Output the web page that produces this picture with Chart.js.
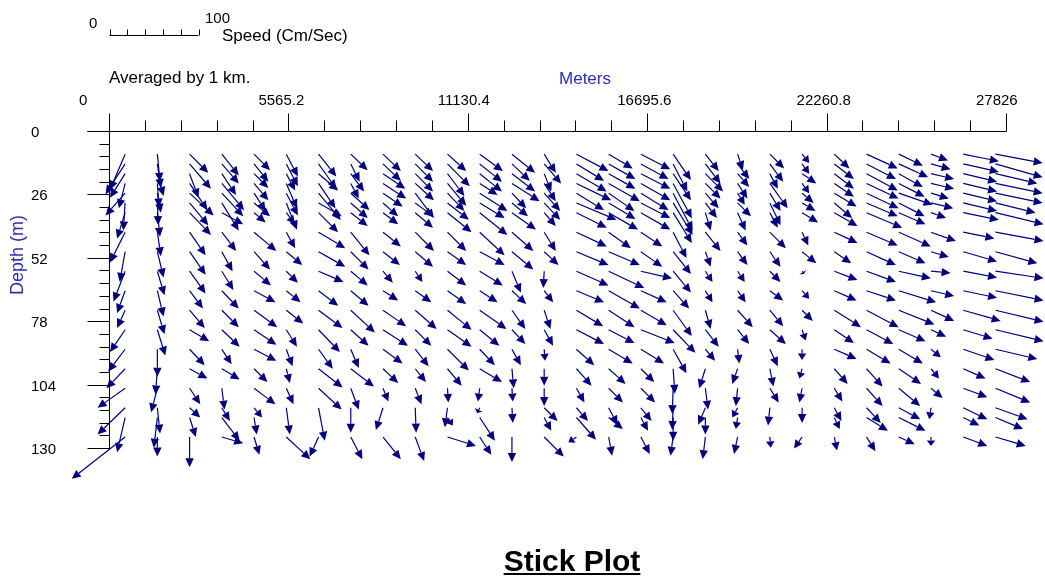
<!DOCTYPE html>
<html>
<head>
<meta charset="utf-8">
<script src="https://cdn.jsdelivr.net/npm/chart.js@4.4.0/dist/chart.umd.min.js"></script>
<style>
  body { margin: 0; background: #fff; }
  canvas { display: block; }
</style>
</head>
<body>
<canvas id="stickChart" width="1045" height="580"></canvas>
<script>
// station positions along the section (m) - averaged by 1 km
const stations = [500, 1500, 2500, 3500, 4500, 5500, 6500, 7500, 8500, 9500, 10500, 11500, 12500, 13500,
  14500, 15500, 16500, 17500, 18500, 19500, 20500, 21500, 22500, 23500, 24500, 25500, 26500, 27500];

// bin depths (m)
const depths = [9.5, 13.5, 17.5, 21.5, 25.5, 29.5, 33.5, 41.5, 49.5, 57.5, 65.5, 73.5, 81.5, 89.5, 97.5, 105.5, 113.5, 117.5, 125.5];

// east component (cm/s), one row per station, one value per depth
const east = [
  [-17, -22, -17, -7, -22, -2, -9, -17, -6, -13, -9, -9, -17, -19, -21, -31, -31, -9, -60],
  [3, 4, 7, 2, 4, 1, 3, 4, 7, 8, 7, 8, 9, 0, -2, -7, 3, -4, 0],
  [21, 24, 10, 20, 27, 21, 24, 18, 18, 18, 15, 17, 22, 17, 20, 12, 12, 7, 0],
  [19, 19, 16, 25, 24, 19, 24, 16, 12, 13, 19, 19, 20, 11, 20, 3, 9, 20, 24],
  [18, 16, 16, 16, 13, 18, 13, 25, 18, 19, 24, 26, 25, 25, 15, 24, 9, 3, 6],
  [13, 13, 10, 12, 13, 12, 10, 10, 18, 13, 16, 19, 12, 7, 4, 8, 4, null, 27],
  [20, 20, 22, 19, 25, 26, 22, 30, 30, 28, 22, 27, 24, 16, 27, 26, 7, null, -10],
  [19, 10, 15, 9, 21, 19, 19, 21, 20, 19, 20, 27, 20, 9, 26, 9, 0, null, 13],
  [20, 20, 25, 26, 22, 17, 17, 20, 19, 11, 17, 26, 28, 22, 17, 6, -8, null, 20],
  [20, 20, 20, 21, 21, 20, 20, 21, 20, 8, 18, 24, 18, 15, 12, 7, 1, null, 10],
  [21, 25, 19, 21, 19, 24, 27, 21, 21, 21, 21, 27, 27, 24, 16, 1, -3, 6, 32],
  [26, 25, 25, 20, 31, 28, 31, 28, 28, 26, 20, 30, 22, 17, 25, -2, -3, 17, 13],
  [26, 20, 26, 31, 16, 18, 27, 24, 24, 10, 16, 15, 15, 10, 2, 1, 1, null, 0],
  [13, 19, 8, 13, 18, 18, 13, 13, 16, -1, 10, 7, 10, 1, 0, 0, 15, 8, 22],
  [36, 31, 34, 39, 31, 45, 34, 34, 36, 36, 31, 30, 31, 20, 17, 9, 13, 22, -9],
  [27, 30, 30, 35, 29, 30, 33, 25, 35, 40, 35, 29, 29, 27, 19, 16, 10, 16, 4],
  [33, 31, 33, 33, 31, 33, 33, 24, 24, 35, 29, 29, 38, 26, 15, 16, 12, 8, 10],
  [20, 16, 20, 21, 22, 22, 21, 15, 20, 20, 18, 21, 25, 15, 2, -1, -1, 0, -3],
  [15, 17, 20, 17, 15, 13, 6, 17, 6, 8, 8, 6, 15, 11, -7, 3, -8, 0, -3],
  [6, 13, 13, 11, 8, 15, 9, 11, 11, 8, 9, 17, 13, 2, -6, -2, -6, -2, -4],
  [16, 15, 9, 20, 12, 12, 9, 18, 12, 12, 15, 15, 18, 9, 4, 10, -2, null, 1],
  [8, 8, 16, 8, 13, 15, 18, 7, 16, 2, 8, 12, 4, 0, -3, -3, 0, null, -9],
  [17, 22, 22, 22, 25, 20, 26, 26, 19, 26, 25, 30, 22, 25, 15, 9, 8, 6, 3],
  [35, 33, 35, 36, 36, 35, 40, 35, 33, 33, 33, 36, 30, 27, 18, 18, 16, 24, 10],
  [27, 33, 27, 29, 38, 29, 30, 36, 30, 36, 42, 40, 30, 27, 25, 24, 24, 30, 18],
  [19, 22, 26, 26, 20, 25, 17, 28, 20, 22, 26, 26, 17, 11, 9, 13, -2, null, 0],
  [40, 40, 38, 38, 38, 38, 40, 35, 38, 38, 38, 42, 33, 35, 25, 27, 27, 18, 27],
  [53, 53, 47, 53, 53, 45, 54, 54, 47, 54, 54, 54, 54, 47, 39, 39, 36, 31, 34]
];

// north component (cm/s)
const north = [
  [-40, -34, -27, -28, -25, -31, -29, -34, -34, -34, -25, -20, -25, -25, -22, -22, -30, -39, -47],
  [-31, -27, -25, -27, -22, -25, -27, -27, -29, -27, -29, -27, -29, -31, -29, -27, -29, -34, -22],
  [-21, -28, -27, -30, -25, -25, -25, -26, -26, -25, -20, -20, -13, -18, -11, -18, -11, -22, -34],
  [-24, -22, -24, -30, -26, -31, -13, -21, -22, -21, -20, -19, -19, -17, -12, -24, -15, -26, -7],
  [-18, -20, -16, -19, -20, -15, -11, -21, -20, -16, -13, -19, -17, -13, -15, -18, -11, -19, -20],
  [-25, -25, -19, -28, -25, -30, -13, -18, -15, -13, -13, -15, -19, -19, -16, -18, -30, null, -25],
  [-25, -28, -19, -28, -30, -15, -22, -18, -17, -12, -17, -20, -25, -22, -21, -24, -37, null, -22],
  [-18, -20, -20, -17, -19, -17, -15, -26, -20, -16, -17, -25, -18, -21, -20, -24, -28, null, -25],
  [-19, -19, -17, -17, -15, -15, -13, -16, -15, -13, -11, -18, -18, -16, -16, -15, -25, null, -25],
  [-19, -20, -20, -19, -28, -15, -17, -21, -17, -12, -13, -21, -18, -19, -15, -18, -28, null, -27],
  [-19, -25, -25, -25, -20, -19, -22, -21, -15, -16, -15, -22, -19, -24, -19, -16, -22, -9, -10],
  [-19, -20, -20, -13, -20, -17, -25, -26, -15, -16, -13, -21, -18, -18, -15, -15, -6, -26, -20],
  [-21, -19, -20, -20, -17, -15, -19, -21, -20, -24, -15, -21, -16, -18, -22, -15, -17, null, -28],
  [-21, -22, -20, -20, -20, -19, -15, -21, -15, -19, -13, -21, -18, -13, -19, -20, -15, -15, -22],
  [-19, -19, -20, -19, -19, -19, -17, -16, -15, -16, -13, -18, -16, -18, -19, -16, -15, -25, -6],
  [-16, -17, -17, -20, -20, -18, -19, -18, -15, -19, -20, -19, -15, -16, -17, -16, -19, -13, -21],
  [-17, -17, -17, -19, -19, -17, -19, -16, -17, -8, -13, -17, -15, -16, -15, -16, -15, -15, -19],
  [-29, -31, -30, -39, -42, -36, -34, -29, -25, -24, -20, -29, -26, -27, -28, -29, -25, -26, -21],
  [-19, -22, -20, -17, -17, -17, -20, -21, -17, -12, -13, -21, -19, -13, -22, -24, -19, -19, -25],
  [-18, -17, -15, -17, -13, -15, -20, -15, -15, -12, -13, -19, -16, -16, -17, -20, -11, -13, -19],
  [-16, -20, -17, -28, -20, -25, -17, -18, -17, -12, -11, -18, -16, -19, -20, -16, -20, null, -12],
  [-10, -11, -11, -11, -11, -9, -11, -15, -13, -3, -9, -12, -12, -12, -11, -16, -17, null, -13],
  [-16, -17, -17, -15, -15, -17, -15, -12, -13, -10, -11, -19, -15, -11, -17, -15, -15, -13, -15],
  [-16, -17, -19, -17, -17, -15, -17, -15, -15, -12, -11, -19, -16, -16, -20, -20, -17, -15, -16],
  [-13, -15, -15, -15, -13, -15, -13, -16, -13, -8, -13, -16, -13, -16, -17, -20, -13, -15, -8],
  [-7, -6, -6, -6, -6, -6, -6, -10, -6, -2, -6, -12, -8, -9, -11, -11, -13, null, -10],
  [-8, -9, -9, -9, -9, -9, -8, -7, -11, -7, -8, -12, -10, -12, -11, -10, -13, -9, -10],
  [-10, -15, -11, -11, -11, -11, -13, -10, -13, -8, -11, -13, -13, -11, -15, -16, -13, -13, -10]
];

const xTicks = [0, 5565.2, 11130.4, 16695.6, 22260.8, 27826];
const xTickLabels = ['0', '5565.2', '11130.4', '16695.6', '22260.8', '27826'];
const yTicks = [0, 26, 52, 78, 104, 130];
const yTickLabels = ['0', '26', '52', '78', '104', '130'];
const speedTicks = [0, 20, 40, 60, 80, 100];

const ARROW = '#00007f';
const BLUE = '#2e2eb8';
const PX_PER_CM = 0.89;   // 100 cm/s = 89 px on the speed bar
const FONT = '"Liberation Sans", Arial, sans-serif';

const points = [];
stations.forEach((s, i) => {
  depths.forEach((d, j) => {
    if (east[i][j] === null) return;
    points.push({ x: s, y: d, u: east[i][j], v: north[i][j] });
  });
});

const crisp = v => Math.round(v) + 0.5;

// axes, ticks, labels, speed legend
const framePlugin = {
  id: 'frame',
  afterDraw(chart) {
    const ctx = chart.ctx;
    const xs = chart.scales.x, ys = chart.scales.y;
    const x0 = crisp(xs.getPixelForValue(0));
    const y0 = crisp(ys.getPixelForValue(0));
    const xEnd = crisp(xs.getPixelForValue(xTicks[xTicks.length - 1]));
    const yEnd = crisp(ys.getPixelForValue(yTicks[yTicks.length - 1]));
    ctx.save();
    ctx.strokeStyle = '#000';
    ctx.lineWidth = 1;
    ctx.beginPath();
    // x axis line (with depth-0 major tick extension)
    ctx.moveTo(x0 - 22, y0); ctx.lineTo(xEnd, y0);
    // y axis line
    ctx.moveTo(x0, y0); ctx.lineTo(x0, yEnd);
    // x ticks
    for (let k = 0; k < xTicks.length; k++) {
      const px = crisp(xs.getPixelForValue(xTicks[k]));
      ctx.moveTo(px, y0); ctx.lineTo(px, y0 - 18);
      if (k < xTicks.length - 1) {
        const step = (xTicks[k + 1] - xTicks[k]) / 5;
        for (let m = 1; m < 5; m++) {
          const mp = crisp(xs.getPixelForValue(xTicks[k] + m * step));
          ctx.moveTo(mp, y0); ctx.lineTo(mp, y0 - 11);
        }
      }
    }
    // y ticks
    for (let k = 0; k < yTicks.length; k++) {
      const py = crisp(ys.getPixelForValue(yTicks[k]));
      ctx.moveTo(x0, py); ctx.lineTo(x0 - 22, py);
      if (k < yTicks.length - 1) {
        const step = (yTicks[k + 1] - yTicks[k]) / 5;
        for (let m = 1; m < 5; m++) {
          const mp = crisp(ys.getPixelForValue(yTicks[k] + m * step));
          ctx.moveTo(x0, mp); ctx.lineTo(x0 - 10, mp);
        }
      }
    }
    ctx.stroke();

    // tick labels
    ctx.fillStyle = '#000';
    ctx.font = '15px ' + FONT;
    ctx.textBaseline = 'alphabetic';
    ctx.textAlign = 'left';
    xTicks.forEach((t, k) => {
      ctx.fillText(xTickLabels[k], xs.getPixelForValue(t) - 30, 105);
    });
    yTicks.forEach((t, k) => {
      ctx.fillText(yTickLabels[k], 31, ys.getPixelForValue(t) + 6);
    });

    // text annotations
    ctx.font = '17px ' + FONT;
    ctx.fillText('Averaged by 1 km.', x0 - 0.5, 83);
    ctx.fillStyle = BLUE;
    ctx.textAlign = 'center';
    ctx.fillText('Meters', 585, 84);
    ctx.save();
    ctx.translate(23, 255);
    ctx.rotate(-Math.PI / 2);
    ctx.font = '18px ' + FONT;
    ctx.fillText('Depth (m)', 0, 0);
    ctx.restore();

    // speed scale bar
    const barX = x0;
    const barY = 35.5;
    ctx.strokeStyle = '#000';
    ctx.beginPath();
    ctx.moveTo(barX, barY);
    ctx.lineTo(barX + speedTicks[speedTicks.length - 1] * PX_PER_CM, barY);
    speedTicks.forEach(s => {
      const px = crisp(barX + s * PX_PER_CM);
      ctx.moveTo(px, barY); ctx.lineTo(px, barY - 6);
    });
    ctx.stroke();
    ctx.fillStyle = '#000';
    ctx.font = '15px ' + FONT;
    ctx.textAlign = 'left';
    ctx.fillText(String(speedTicks[0]), 89, 28);
    ctx.fillText(String(speedTicks[speedTicks.length - 1]), 205, 23);
    ctx.font = '17px ' + FONT;
    ctx.fillText('Speed (Cm/Sec)', 222, 41);

    // title
    ctx.font = 'bold 30px ' + FONT;
    ctx.textAlign = 'center';
    const title = 'Stick Plot';
    ctx.fillText(title, 572, 571);
    const w = ctx.measureText(title).width;
    ctx.fillRect(572 - w / 2, 573, w, 2);
    ctx.restore();
  }
};

// sticks with arrow heads, anchored at the points placed by the scales
const stickPlugin = {
  id: 'sticks',
  afterDatasetsDraw(chart) {
    const ctx = chart.ctx;
    const meta = chart.getDatasetMeta(0);
    const data = chart.data.datasets[0].data;
    ctx.save();
    ctx.strokeStyle = ARROW;
    ctx.fillStyle = ARROW;
    ctx.lineWidth = 1.2;
    meta.data.forEach((el, i) => {
      const d = data[i];
      const xa = el.x, ya = el.y;
      const xb = xa + d.u * PX_PER_CM;
      const yb = ya - d.v * PX_PER_CM;
      const ang = Math.atan2(yb - ya, xb - xa);
      const len = Math.hypot(xb - xa, yb - ya);
      const hl = Math.min(9, len * 0.6), hw = 4.2;
      const bx = xb - hl * Math.cos(ang), by = yb - hl * Math.sin(ang);
      ctx.beginPath();
      ctx.moveTo(xa, ya);
      ctx.lineTo(bx, by);
      ctx.stroke();
      ctx.beginPath();
      ctx.moveTo(xb, yb);
      ctx.lineTo(bx - hw * Math.sin(ang), by + hw * Math.cos(ang));
      ctx.lineTo(bx + hw * Math.sin(ang), by - hw * Math.cos(ang));
      ctx.closePath();
      ctx.fill();
    });
    ctx.restore();
  }
};

new Chart(document.getElementById('stickChart'), {
  type: 'scatter',
  data: {
    datasets: [{
      data: points,
      pointRadius: 0,
      pointHoverRadius: 0,
      showLine: false
    }]
  },
  options: {
    responsive: false,
    animation: false,
    events: [],
    layout: { padding: { left: 109, right: 39, top: 131, bottom: 132 } },
    plugins: { legend: { display: false }, tooltip: { enabled: false } },
    scales: {
      x: { type: 'linear', display: false, min: 0, max: 27826 },
      y: { type: 'linear', display: false, min: 0, max: 130, reverse: true }
    }
  },
  plugins: [stickPlugin, framePlugin]
});
</script>
</body>
</html>
